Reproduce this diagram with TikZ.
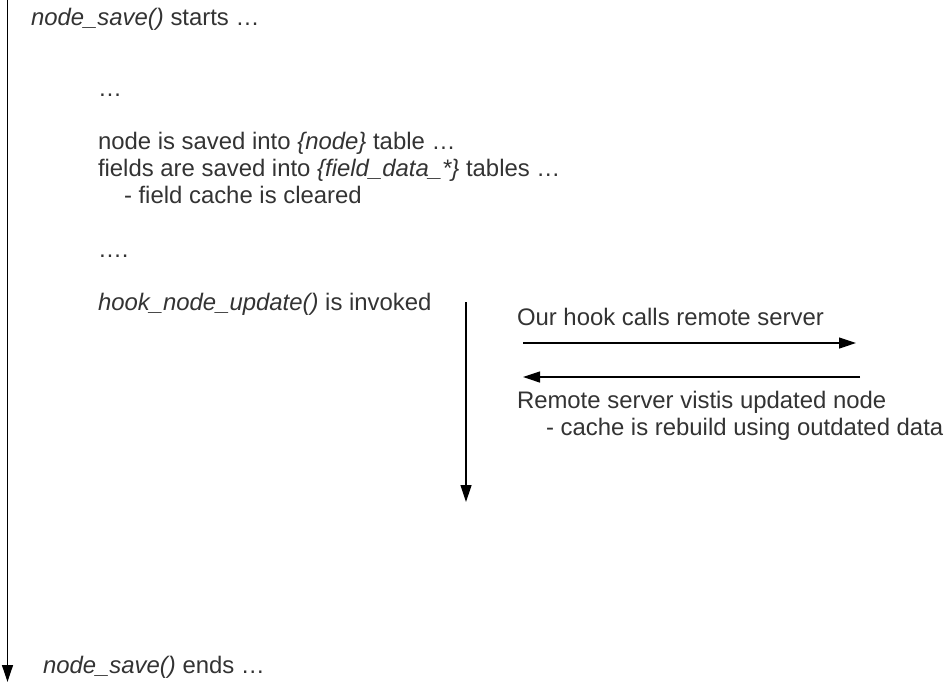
\documentclass[tikz,border=0pt]{standalone}
\usepackage{fontspec}
\setmainfont{Liberation Sans}
\usetikzlibrary{arrows.meta}
\definecolor{txt}{HTML}{333333}
\begin{document}
\begin{tikzpicture}[x=1pt,y=-1pt,
  lbl/.style={anchor=base west,inner sep=0pt,outer sep=0pt,text=txt,font=\fontsize{23.9}{27}\selectfont},
  flow/.style={line width=1.2pt,-{Triangle[length=17pt,width=11pt]}}]
\useasboundingbox (0,0) rectangle (952,683);
% texts
\node[lbl] (start) at (31,25) {\textit{node\_save()} starts …};
\node[lbl] (dots1) at (98,96) {…};
\node[lbl] (saved) at (98,149) {node is saved into \textit{\{node\}} table …};
\node[lbl] (fields) at (98,176) {fields are saved into \textit{\{field\_data\_*\}} tables …};
\node[lbl] (cleared) at (124,203) {- field cache is cleared};
\node[lbl] (dots2) at (98,257) {….};
\node[lbl] (hook) at (98,310) {\textit{hook\_node\_update()} is invoked};
\node[lbl] (calls) at (517,325) {Our hook calls remote server};
\node[lbl] (visits) at (517,408) {Remote server vistis updated node};
\node[lbl] (rebuild) at (546,435) {- cache is rebuild using outdated data};
\node[lbl] (ends) at (43,673) {\textit{node\_save()} ends …};
% connector endpoints
\coordinate (mainT) at (7.5,0);
\coordinate (mainB) at (7.5,682);
\coordinate (hookT) at (466,302);
\coordinate (hookB) at (466,502);
\coordinate (reqA) at (523,343);
\coordinate (reqB) at (856,343);
\coordinate (resA) at (860,377);
\coordinate (resB) at (523,377);
% connectors
\draw[flow] (mainT) -- (mainB);
\draw[flow] (hookT) -- (hookB);
\draw[flow] (reqA) -- (reqB);
\draw[flow] (resA) -- (resB);
\end{tikzpicture}
\end{document}
